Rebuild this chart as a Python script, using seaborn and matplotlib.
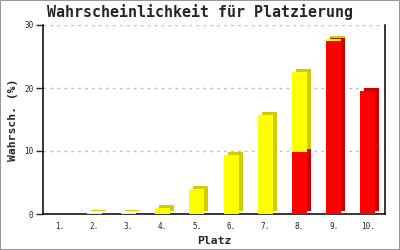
import matplotlib
matplotlib.use("Agg")
import matplotlib.pyplot as plt
import seaborn as sns
import numpy as np
from matplotlib.transforms import ScaledTranslation
from matplotlib.patches import Rectangle

places = ["1.", "2.", "3.", "4.", "5.", "6.", "7.", "8.", "9.", "10."]
red_vals = [0, 0, 0, 0, 0, 0, 0, 9.8, 27.5, 19.6]
yellow_vals = [0, 0.2, 0.2, 1.0, 4.0, 9.4, 15.7, 12.8, 0.3, 0]
yticks = [0, 10, 20, 30]

totals = list(np.array(red_vals) + np.array(yellow_vals))

sns.set_style("white")
plt.rcParams["font.family"] = ["DejaVu Sans Mono"]

fig = plt.figure(figsize=(4, 2.5), dpi=100)
ax = fig.add_axes([0.1075, 0.144, 0.855, 0.756])

offset = ScaledTranslation(4 / 100, 3 / 100, fig.dpi_scale_trans)

def bars(vals, color, shift):
    n0 = len(ax.patches)
    sns.barplot(x=places, y=vals, color=color, saturation=1, width=0.44,
                linewidth=0, edgecolor="none", ax=ax, zorder=3)
    if shift:
        for p in ax.patches[n0:]:
            p.set_transform(p.get_data_transform() + offset)

bars(totals, "#d0cc00", True)
bars(red_vals, "#cc0000", True)
bars(totals, "#ffff00", False)
bars(red_vals, "#ff0000", False)

ax.set_ylim(0, 30)
ax.set_xlim(-0.5, 9.5)
ax.set_yticks(yticks)
ax.set_yticklabels([str(v) for v in yticks])
for v in yticks[1:]:
    ax.axhline(v, color="#c0c0c0", lw=1, ls=(0, (2, 3)), zorder=1)

for s in ["left", "bottom", "right"]:
    ax.spines[s].set_visible(True)
    ax.spines[s].set_color("black")
    ax.spines[s].set_linewidth(1.1)
ax.spines["top"].set_visible(False)

ax.tick_params(axis="y", left=True, length=5, width=1, labelsize=5.5, pad=2)
ax.tick_params(axis="x", bottom=False, labelsize=5.5, pad=2)

ax.set_title("Wahrscheinlichkeit für Platzierung", fontsize=10.8,
             fontweight="bold", pad=6, x=0.459)
ax.set_ylabel("Wahrsch. (%)", fontsize=8.2, fontweight="bold", labelpad=4)
ax.set_xlabel("Platz", fontsize=8.2, fontweight="bold", labelpad=4)

fig.patches.append(Rectangle((0, 0), 1, 1, transform=fig.transFigure,
                             fill=False, edgecolor="#999999", lw=1.5))

fig.savefig("out.png", dpi=100)
